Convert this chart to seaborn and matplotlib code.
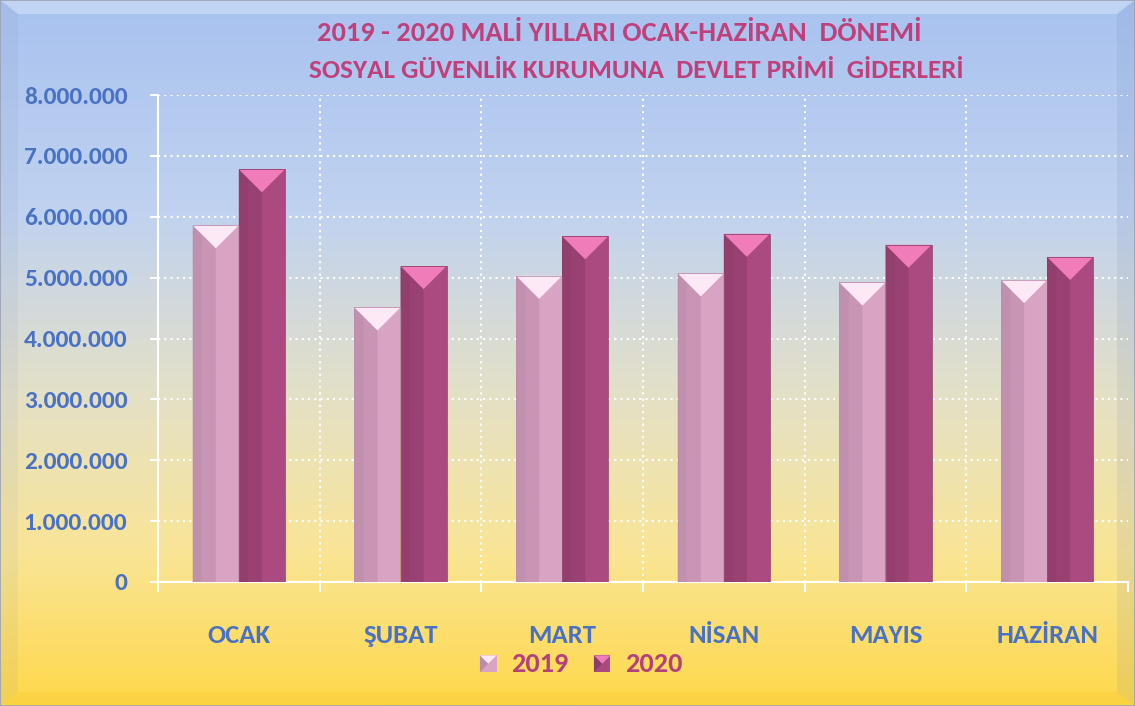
import numpy as np
import pandas as pd
import matplotlib
matplotlib.use("Agg")
import matplotlib.pyplot as plt
import seaborn as sns
from matplotlib.colors import LinearSegmentedColormap
from matplotlib.patches import Polygon, Patch
from matplotlib.ticker import FuncFormatter, MultipleLocator, FixedLocator
from matplotlib.legend_handler import HandlerPatch
import matplotlib.font_manager as fm

# ---- data ----
months = ["OCAK", "ŞUBAT", "MART", "NİSAN", "MAYIS", "HAZİRAN"]
years = ["2019", "2020"]
v2019 = [5860000, 4510000, 5030000, 5070000, 4920000, 4960000]
v2020 = [6780000, 5190000, 5680000, 5720000, 5540000, 5340000]
title_lines = ["2019 - 2020 MALİ YILLARI OCAK-HAZİRAN  DÖNEMİ",
               "SOSYAL GÜVENLİK KURUMUNA  DEVLET PRİMİ  GİDERLERİ"]

df = pd.DataFrame({
    "Ay": months * 2,
    "Yıl": [years[0]] * len(months) + [years[1]] * len(months),
    "Tutar": v2019 + v2020,
})

sns.set_theme(style="white")
names = {f.name for f in fm.fontManager.ttflist}
fam = next((f for f in ["Carlito", "Lato", "Liberation Sans"] if f in names), "DejaVu Sans")
plt.rcParams["font.family"] = [fam, "DejaVu Sans"]

W, H = 1135, 706
fig = plt.figure(figsize=(W / 100, H / 100), dpi=100)
renderer = fig.canvas.get_renderer()


def fit(text, target_px, base=20.0):
    t = fig.text(0, 0, text, fontsize=base, fontweight="bold")
    w = t.get_window_extent(renderer).width
    t.remove()
    return base * target_px / w


# ---- background gradient + bevel frame ----
bg = fig.add_axes([0, 0, 1, 1], zorder=0)
grad = np.linspace(0, 1, 512).reshape(-1, 1)
cmap = LinearSegmentedColormap.from_list(
    "bg", [(0.0, "#a8c2ef"), (0.3, "#c0d2f0"), (0.55, "#e3e0c9"),
           (0.78, "#f9e597"), (1.0, "#ffd84a")])
bg.imshow(grad, aspect="auto", cmap=cmap, extent=[0, 1, 0, 1], origin="upper")
ex, ey = 18 / W, 14 / H
bg.add_patch(Polygon([(0, 1), (1, 1), (1 - ex, 1 - ey), (ex, 1 - ey)],
                     closed=True, fc="white", alpha=0.3, ec="none"))
bg.add_patch(Polygon([(0, 0), (0, 1), (ex, 1 - ey), (ex, ey)],
                     closed=True, fc="#6a7fa8", alpha=0.08, ec="none"))
bg.add_patch(Polygon([(1, 0), (1, 1), (1 - ex, 1 - ey), (1 - ex, ey)],
                     closed=True, fc="#6a7fa8", alpha=0.12, ec="none"))
bg.add_patch(Polygon([(0, 0), (1, 0), (1 - ex, ey), (ex, ey)],
                     closed=True, fc="#e8b000", alpha=0.12, ec="none"))
bg.add_patch(Polygon([(0, 0), (1, 0), (1, 1), (0, 1)], closed=True,
                     fc="none", ec="#9aa2b4", lw=1.2))
bg.set_xlim(0, 1)
bg.set_ylim(0, 1)
bg.axis("off")

# ---- plot axes ----
x0, x1, y0, y1 = 158, 1128, 582, 95
ax = fig.add_axes([x0 / W, (H - y0) / H, (x1 - x0) / W, (y0 - y1) / H], zorder=1)
ax.patch.set_alpha(0)

c19, c20 = "#d9a3c4", "#aa4a80"
sns.barplot(data=df, x="Ay", y="Tutar", hue="Yıl", palette=[c19, c20],
            width=0.57, saturation=1, ax=ax, legend=False, zorder=3,
            edgecolor="none")
ax.set_ylim(0, 8000000)
ax.set_xlim(-0.5, len(months) - 0.5)

# bevel decoration on each bar, derived from bar geometry
shade = {c19: ("#bd8cab", "#fde8f6"), c20: ("#8e3c69", "#f07cb9")}
px_per_unit_y = (y0 - y1) / 8000000
px_per_unit_x = (x1 - x0) / len(months)
for p in list(ax.patches):
    bx, bw, bh = p.get_x(), p.get_width(), p.get_height()
    if bh <= 0:
        continue
    fc = matplotlib.colors.to_hex(p.get_facecolor())
    dark, light = shade.get(fc, ("#888888", "#eeeeee"))
    d = (bw * px_per_unit_x * 0.5) / px_per_unit_y
    ax.add_patch(Polygon([(bx, 0), (bx, bh), (bx + bw / 2, bh - d), (bx + bw / 2, 0)],
                         closed=True, fc=dark, ec="none", alpha=0.6, zorder=4))
    ax.add_patch(Polygon([(bx, 0), (bx, bh), (bx + bw * 0.2, bh - d * 0.4), (bx + bw * 0.2, 0)],
                         closed=True, fc=dark, ec="none", alpha=0.5, zorder=4))
    ax.add_patch(Polygon([(bx, bh), (bx + bw, bh), (bx + bw / 2, bh - d)],
                         closed=True, fc=light, ec="none", zorder=5))
    ax.add_patch(Polygon([(bx, 0), (bx, bh), (bx + bw, bh), (bx + bw, 0)],
                         closed=True, fc="none", ec=dark, lw=0.7, alpha=0.8, zorder=6))

# grid
ax.yaxis.set_major_locator(MultipleLocator(1000000))
ax.grid(axis="y", color="white", linestyle=(0, (1, 2)), linewidth=1.5, zorder=1)
for b in np.arange(0.5, len(months) - 0.5, 1.0):
    ax.axvline(b, color="white", linestyle=(0, (1, 2)), linewidth=1.5, zorder=1)
ax.set_axisbelow(True)

for s in ["top", "right"]:
    ax.spines[s].set_visible(False)
for s in ["left", "bottom"]:
    ax.spines[s].set_color("white")
    ax.spines[s].set_linewidth(1.5)

blue = "#4a72c4"
ysize = fit("8.000.000", 104)
ax.yaxis.set_major_formatter(FuncFormatter(lambda v, _: f"{int(v):,}".replace(",", ".")))
ax.tick_params(axis="y", labelsize=ysize, length=6, width=1.5, color="white", pad=16, left=True)
for t in ax.get_yticklabels():
    t.set_fontweight("bold")
    t.set_color(blue)
xsize = fit("OCAK", 63)
ax.set_xticks(range(len(months)))
ax.set_xticklabels(months, fontsize=xsize, fontweight="bold", color=blue)
ax.tick_params(axis="x", length=0, pad=30)
ax.xaxis.set_minor_locator(FixedLocator(np.arange(-0.5, len(months), 1.0)))
ax.tick_params(axis="x", which="minor", length=7, color="white", width=1.5, bottom=True)
ax.set_xlabel("")
ax.set_ylabel("")

# title
tcol = "#c0407c"
fig.text(619 / W, 1 - 33 / H, title_lines[0], ha="center", va="center",
         fontsize=fit(title_lines[0], 602), fontweight="bold", color=tcol)
fig.text(636 / W, 1 - 70 / H, title_lines[1], ha="center", va="center",
         fontsize=fit(title_lines[1], 657), fontweight="bold", color=tcol)


# legend
class SquareBevel(HandlerPatch):
    def create_artists(self, legend, orig, xd, yd, w, h, fontsize, trans):
        s = min(w, h) * 0.95
        cx = xd + w / 2
        cy = yd + h / 2
        fc = orig.get_facecolor()
        dark, light = shade[matplotlib.colors.to_hex(fc)]
        base = Polygon([(cx - s/2, cy - s/2), (cx + s/2, cy - s/2), (cx + s/2, cy + s/2), (cx - s/2, cy + s/2)],
                       closed=True, fc=fc, ec="none", transform=trans)
        left = Polygon([(cx - s/2, cy - s/2), (cx - s/2, cy + s/2), (cx, cy)],
                       closed=True, fc=dark, ec="none", transform=trans)
        top = Polygon([(cx - s/2, cy + s/2), (cx + s/2, cy + s/2), (cx, cy)],
                      closed=True, fc=light, ec="none", transform=trans)
        return [base, left, top]


handles = [Patch(facecolor=c19, label=years[0]), Patch(facecolor=c20, label=years[1])]
hm = {h: SquareBevel() for h in handles}
leg = fig.legend(handles=handles, handler_map=hm, loc="center", bbox_to_anchor=(581 / W, 1 - 664 / H),
                 ncol=2, frameon=False, fontsize=fit("2019", 57), handlelength=0.62, handleheight=0.62,
                 handletextpad=0.5, columnspacing=0.9)
for t in leg.get_texts():
    t.set_color("#b4407e")
    t.set_fontweight("bold")

fig.savefig("out.png", dpi=100)
